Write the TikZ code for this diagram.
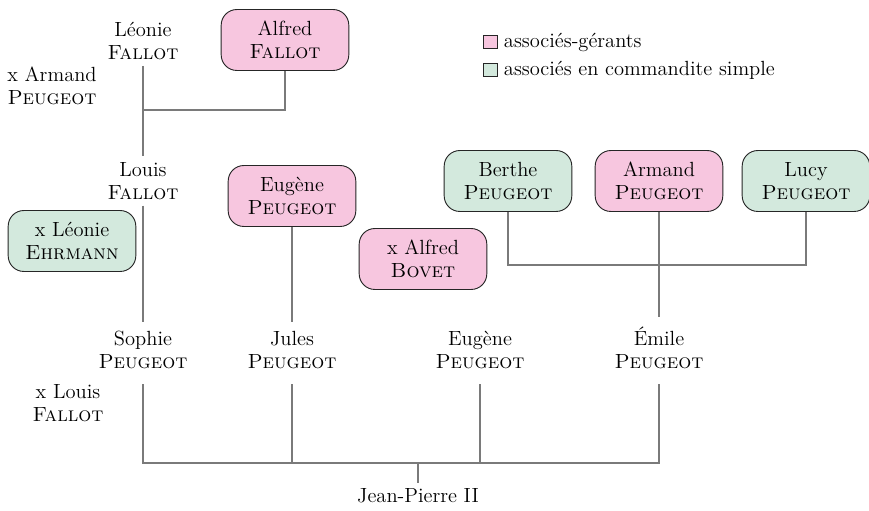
\documentclass[tikz,border=0pt]{standalone}
\usepackage{xcolor}

\definecolor{rosegerant}{HTML}{F7C6DF}
\definecolor{vertcomm}{HTML}{D3E9DD}
\definecolor{lien}{HTML}{7A7A7A}

\begin{document}
\begin{tikzpicture}[x=0.0192cm,y=-0.0192cm,
  every node/.style={font=\fontsize{11.2}{12.8}\selectfont},
  personne/.style={align=center,inner sep=3pt},
  enfant/.style={personne,anchor=base,inner ysep=5pt},
  boite/.style={personne,draw=black!85,line width=0.5pt,rounded corners=0.3cm,
    minimum width=2.45cm,minimum height=1.17cm},
  gerantbox/.style={boite,fill=rosegerant},
  commbox/.style={boite,fill=vertcomm},
  lien/.style={draw=lien,line width=0.7pt},
  carre/.style={draw=black!85,line width=0.5pt,minimum width=0.27cm,minimum height=0.25cm,inner sep=0pt}]
\useasboundingbox (0,0) rectangle (869,511);

% legende
\node[carre,fill=rosegerant] (cg) at (490,42) {};
\node[right] (lg) at (cg.east) {associés-gérants};
\node[carre,fill=vertcomm] (cc) at (490,70) {};
\node[right] (lc) at (cc.east) {associés en commandite simple};

% generation 1
\node[personne] (leonie) at (143,41) {Léonie\\\textsc{Fallot}};
\node[gerantbox] (alfredF) at (285,40) {Alfred\\\textsc{Fallot}};
\node[personne] (armandX) at (52,86) {x Armand\\\textsc{Peugeot}};

% generation 2
\node[personne] (louis) at (143,181) {Louis\\\textsc{Fallot}};
\node[commbox] (ehrmann) at (72,241) {x Léonie\\\textsc{Ehrmann}};
\node[gerantbox] (eugeneH) at (292,196) {Eugène\\\textsc{Peugeot}};
\node[gerantbox] (bovet) at (423,259) {x Alfred\\\textsc{Bovet}};
\node[commbox] (berthe) at (508,181) {Berthe\\\textsc{Peugeot}};
\node[gerantbox] (armand) at (659,181) {Armand\\\textsc{Peugeot}};
\node[commbox] (lucy) at (806,181) {Lucy\\\textsc{Peugeot}};

% generation 3
\node[enfant] (sophie) at (143,369) {Sophie\\\textsc{Peugeot}};
\node[enfant] (jules) at (292,369) {Jules\\\textsc{Peugeot}};
\node[enfant] (eugeneB) at (480,369) {Eugène\\\textsc{Peugeot}};
\node[enfant] (emile) at (659,369) {Émile\\\textsc{Peugeot}};
\node[personne] (louisX) at (68,403) {x Louis\\\textsc{Fallot}};

\node[personne] (jp) at (418,496) {Jean-Pierre II};

% liens
\coordinate (jA) at (143,110);
\coordinate (jB) at (508,265);
\coordinate (jC) at (418,463);
\draw[lien] (leonie) -- (louis);
\draw[lien] (alfredF) |- (jA);
\draw[lien] (louis) -- (sophie);
\draw[lien] (eugeneH) -- (jules);
\draw[lien] (armand) -- (emile);
\draw[lien] (berthe) -- (jB) -| (lucy);
\draw[lien,shorten <=3pt,shorten >=3pt] (sophie) -- (sophie |- jC) -- (emile |- jC) -- (emile);
\draw[lien,shorten <=3pt] (jules) -- (jules |- jC);
\draw[lien,shorten <=3pt] (eugeneB) -- (eugeneB |- jC);
\draw[lien] (jC) -- (jp);
\end{tikzpicture}
\end{document}
